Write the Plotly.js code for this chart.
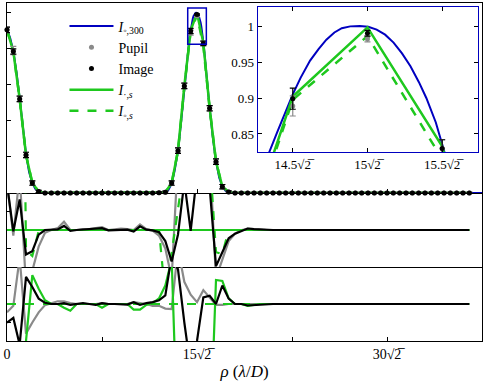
<!DOCTYPE html>
<html>
<head>
<meta charset="utf-8">
<script src="https://cdn.plot.ly/plotly-3.0.1.min.js"></script>
<style>
  html, body { margin: 0; padding: 0; background: #fff; }
  #chart { width: 488px; height: 385px; }
</style>
</head>
<body>
<div id="chart"></div>
<script>
// sample positions, k * sqrt(2)/2
const rho = [
  0, 0.707, 1.414, 2.121, 2.828, 3.536, 4.243, 4.95, 5.657, 6.364,
  7.071, 7.778, 8.485, 9.192, 9.899, 10.607, 11.314, 12.021, 12.728, 13.435,
  14.142, 14.849, 15.556, 16.263, 16.971, 17.678, 18.385, 19.092, 19.799, 20.506,
  21.213, 21.92, 22.627, 23.335, 24.042, 24.749, 25.456, 26.163, 26.87, 27.577,
  28.284, 28.991, 29.698, 30.406, 31.113, 31.82, 32.527, 33.234, 33.941, 34.648,
  35.355, 36.062, 36.77, 37.477, 38.184, 38.891, 39.598, 40.305, 41.012, 41.719,
  42.426, 43.134, 43.841, 44.548, 45.255, 45.962, 46.669, 47.376, 48.083, 48.79,
  49.497, 50.205, 50.912, 51.619
]

// fine model curve I_o,300
const blueRho = [0, 0.354, 0.707, 1.061, 1.414, 1.768, 2.121, 2.475, 2.828, 3.182, 3.536, 3.9, 4.5,
  17.0, 17.6, 18.0, 18.385, 18.7, 19.092, 19.45, 19.799, 20.0, 20.15, 20.284, 20.36, 20.43, 20.506,
  20.58, 20.67, 20.75, 20.824, 20.9, 20.97, 21.05, 21.14, 21.22, 21.3, 21.38, 21.46, 21.54,
  21.62, 21.7, 21.77, 21.86, 21.947, 22.03, 22.1, 22.27, 22.45, 22.627, 23.0, 23.335, 23.7,
  24.042, 24.4, 24.75, 25.2, 53.033]
const blueI = [0.908, 0.86, 0.787, 0.67, 0.525, 0.37, 0.215, 0.115, 0.055, 0.022, 0.008, 0.002, 0,
  0, 0.004, 0.015, 0.052, 0.12, 0.232, 0.4, 0.59, 0.69, 0.765, 0.825, 0.853, 0.878, 0.905,
  0.928, 0.952, 0.968, 0.981, 0.991, 0.997, 0.9995, 1.0, 0.999, 0.995, 0.988, 0.977, 0.962,
  0.944, 0.922, 0.9, 0.866, 0.828, 0.785, 0.745, 0.655, 0.56, 0.47, 0.3, 0.175, 0.085,
  0.036, 0.012, 0.003, 0, 0]

const image = [
  0.905, 0.785, 0.522, 0.211, 0.055, 0.008, 0, 0, 0, 0,
  0, 0, 0, 0, 0, 0, 0, 0, 0, 0,
  0, 0, 0, 0, 0.002, 0.004, 0.055, 0.235, 0.594, 0.899,
  0.99, 0.83, 0.47, 0.174, 0.035, 0.006, 0, 0, 0, 0,
  0, 0, 0, 0, 0, 0, 0, 0, 0, 0,
  0, 0, 0, 0, 0, 0, 0, 0, 0, 0,
  0, 0, 0, 0, 0, 0, 0, 0, 0, 0,
  0, 0, 0, 0
]
const imageErr = [
  0.015, 0.015, 0.015, 0.015, 0.012, 0.006, 0.004, 0.004, 0.004, 0.004,
  0.004, 0.004, 0.004, 0.004, 0.004, 0.004, 0.004, 0.004, 0.004, 0.004,
  0.004, 0.004, 0.004, 0.004, 0.004, 0.006, 0.012, 0.015, 0.015, 0.0146,
  0.004, 0.012, 0.015, 0.015, 0.012, 0.006, 0.004, 0.004, 0.004, 0.004,
  0.004, 0.004, 0.004, 0.004, 0.004, 0.004, 0.004, 0.004, 0.004, 0.004,
  0.004, 0.004, 0.004, 0.004, 0.004, 0.004, 0.004, 0.004, 0.004, 0.004,
  0.004, 0.004, 0.004, 0.004, 0.004, 0.004, 0.004, 0.004, 0.004, 0.004,
  0.004, 0.004, 0.004, 0.004
]
const pupil = [
  0.905, 0.79, 0.522, 0.211, 0.055, 0.008, 0, 0, 0, 0,
  0, 0, 0, 0, 0, 0, 0, 0, 0, 0,
  0, 0, 0, 0, 0.002, 0.004, 0.055, 0.235, 0.594, 0.889,
  0.982, 0.83, 0.47, 0.174, 0.035, 0.006, 0, 0, 0, 0,
  0, 0, 0, 0, 0, 0, 0, 0, 0, 0,
  0, 0, 0, 0, 0, 0, 0, 0, 0, 0,
  0, 0, 0, 0, 0, 0, 0, 0, 0, 0,
  0, 0, 0, 0
]
const pupilErr = [
  0.015, 0.023, 0.015, 0.015, 0.012, 0.006, 0.004, 0.004, 0.004, 0.004,
  0.004, 0.004, 0.004, 0.004, 0.004, 0.004, 0.004, 0.004, 0.004, 0.004,
  0.004, 0.004, 0.004, 0.004, 0.004, 0.006, 0.012, 0.015, 0.015, 0.014,
  0.004, 0.012, 0.015, 0.015, 0.012, 0.006, 0.004, 0.004, 0.004, 0.004,
  0.004, 0.004, 0.004, 0.004, 0.004, 0.004, 0.004, 0.004, 0.004, 0.004,
  0.004, 0.004, 0.004, 0.004, 0.004, 0.004, 0.004, 0.004, 0.004, 0.004,
  0.004, 0.004, 0.004, 0.004, 0.004, 0.004, 0.004, 0.004, 0.004, 0.004,
  0.004, 0.004, 0.004, 0.004
]
// I_.,s and I_o,s at the samples
const iDotS = [
  0.905, 0.785, 0.522, 0.211, 0.055, 0.008, 0, 0, 0, 0,
  0, 0, 0, 0, 0, 0, 0, 0, 0, 0,
  0, 0, 0, 0, 0.002, 0.004, 0.055, 0.235, 0.594, 0.902,
  0.998, 0.833, 0.47, 0.174, 0.035, 0.006, 0, 0, 0, 0,
  0, 0, 0, 0, 0, 0, 0, 0, 0, 0,
  0, 0, 0, 0, 0, 0, 0, 0, 0, 0,
  0, 0, 0, 0, 0, 0, 0, 0, 0, 0,
  0, 0, 0, 0
]
const iCircS = [
  0.905, 0.785, 0.522, 0.211, 0.055, 0.008, 0, 0, 0, 0,
  0, 0, 0, 0, 0, 0, 0, 0, 0, 0,
  0, 0, 0, 0, 0.002, 0.004, 0.055, 0.235, 0.585, 0.8976,
  0.986, 0.815, 0.47, 0.174, 0.035, 0.006, 0, 0, 0, 0,
  0, 0, 0, 0, 0, 0, 0, 0, 0, 0,
  0, 0, 0, 0, 0, 0, 0, 0, 0, 0,
  0, 0, 0, 0, 0, 0, 0, 0, 0, 0,
  0, 0, 0, 0
]

// middle panel residuals
const midImage = [
  2.5, -0.07, 1.65, -1.32, -1.14, -0.25, 0, 0, 0.03, 0.22,
  -0.05, 0, 0.02, 0.03, 0.05, 0.1, -0.02, 0, 0.03, 0.02,
  -0.08, 0.2, 0.02, -0.02, -0.12, -0.6, -1.7, -0.24, 2.6, -0.05,
  3, 4, 2.3, -1.95, -1.2, -0.45, -0.2, -0.05, 0.08, 0.05,
  0.02, 0, 0, 0, 0, 0, 0, 0, 0, 0,
  0, 0, 0, 0, 0, 0, 0, 0, 0, 0,
  0, 0, 0, 0, 0, 0, 0, 0, 0, 0,
  0, 0, 0, 0
]
const midPupil = [
  2.5, -0.3, 3, -3, -2.2, -0.9, -0.15, 0, 0.1, 0.45,
  0, 0, 0.05, 0.05, 0.1, 0.15, 0, 0.02, 0.08, 0.05,
  0, 0.3, 0.05, -0.03, -0.3, -1.0, -2.6, 4, 4, 4,
  4, 4, 4, -2.6, -1.6, -0.6, -0.2, -0.02, 0.08, 0.05,
  0.02, 0, 0, 0, 0, 0, 0, 0, 0, 0,
  0, 0, 0, 0, 0, 0, 0, 0, 0, 0,
  0, 0, 0, 0, 0, 0, 0, 0, 0, 0,
  0, 0, 0, 0
]
const midDot = [
  0, 0, 0, 0, 0, 0, 0, 0, 0, 0,
  0, 0, 0, 0, 0, 0, 0, 0, 0, 0,
  0, 0, 0, 0, 0, 0, 0, 0, 0, 0,
  0, 0, 0, 0, 0, 0, 0, 0, 0, 0,
  0, 0, 0, 0, 0, 0, 0, 0, 0, 0,
  0, 0, 0, 0, 0, 0, 0, 0, 0, 0,
  0, 0, 0, 0, 0, 0, 0, 0, 0, 0,
  0, 0, 0, 0
]
const midCirc = [
  30, 30, 30, -1.1, -1.4, -0.05, 0, 0, 0, 0,
  0, 0, 0, 0, 0, 0, 0, 0, 0, 0,
  0, 0, 0, 0, 0, -3.6, -1.2, 1.12, 3.5, 10,
  10, 10, 4, -1.2, -1.3, 0, 0, 0, 0, 0,
  0, 0, 0, 0, 0, 0, 0, 0, 0, 0,
  0, 0, 0, 0, 0, 0, 0, 0, 0, 0,
  0, 0, 0, 0, 0, 0, 0, 0, 0, 0,
  0, 0, 0, 0
]

// bottom panel residuals
const lowImage = [
  -1.0, -0.75, -2.2, 1.47, 0.92, 0.29, 0.07, 0, 0, 0.05,
  -0.05, 0, 0.05, 0, -0.05, 0.05, 0, 0, 0, -0.03,
  0.1, -0.05, 0.05, 0.1, 0.2, 0.47, 2.6, 1.87, -1.0, -3.5,
  -2.0, 0.36, 0.45, 0, 1.0, 0.29, 0, 0, -0.08, -0.05,
  -0.02, 0, 0, 0, 0, 0, 0, 0, 0, 0,
  0, 0, 0, 0, 0, 0, 0, 0, 0, 0,
  0, 0, 0, 0, 0, 0, 0, 0, 0, 0,
  0, 0, 0, 0
]
const lowPupil = [
  -0.45, -0.1, 2.5, -1.6, -1.0, -0.45, -0.06, 0.05, 0.15, 0.15,
  0.05, 0, 0, 0, 0, 0.05, 0, 0, 0, 0,
  0.1, 0.05, 0, -0.1, -0.1, -0.25, -0.27, 3, 1.2, 0.5,
  0.1, 0.75, 0.35, -0.05, -0.05, 0, 0, 0, 0, 0,
  0, 0, 0, 0, 0, 0, 0, 0, 0, 0,
  0, 0, 0, 0, 0, 0, 0, 0, 0, 0,
  0, 0, 0, 0, 0, 0, 0, 0, 0, 0,
  0, 0, 0, 0
]
const lowDot = [
  -6, -6, -6, -2.0, 1.56, 0.83, 0.2, 0, 0, -0.2,
  -0.36, 0, 0, 0, 0, -0.2, 0, 0, 0, 0,
  -0.3, -0.3, -0.05, 0.05, 0.3, 1.0, 2.4, -8, -8, -8,
  -8, -8, -8, 1.3, 1.25, 0.3, 0, 0, -0.1, -0.05,
  0, 0, 0, 0, 0, 0, 0, 0, 0, 0,
  0, 0, 0, 0, 0, 0, 0, 0, 0, 0,
  0, 0, 0, 0, 0, 0, 0, 0, 0, 0,
  0, 0, 0, 0
]
const lowCirc = midDot

const xMajorVals = [0, 21.213, 42.426]
const xMajorText = ['0', '15√2̅', '30√2̅']
const xMinorVals = [10.607, 31.82, 53.033]
const insetTickVals = [20.506, 21.213, 21.92]
const insetTickText = ['14.5√2̅', '15√2̅', '15.5√2̅']
const insetYVals = [0.85, 0.9, 0.95, 1]
const insetYText = ['0.85', '0.9', '0.95', '1']

const BLUE  = '#0000c0'
const GREEN = '#1ec81e'
const GRAY  = '#8a8a8a'
const SERIF = 'Liberation Serif, Times New Roman, serif'

const errBars = (arr, color) => ({ type: 'data', array: arr, color: color, thickness: 1.2, width: 3 })

const panelTraces = (xa, ya, legend) => [
  { x: blueRho, y: blueI, xaxis: xa, yaxis: ya, type: 'scatter', mode: 'lines',
    name: '<i>I</i><sub>◦,300</sub>', legendrank: 1, showlegend: legend,
    line: { color: BLUE, width: 2 } },
  { x: rho, y: iCircS, xaxis: xa, yaxis: ya, type: 'scatter', mode: 'lines',
    name: '<i>I</i><sub>◦,<i>s</i></sub>', legendrank: 5, showlegend: legend,
    line: { color: GREEN, width: 2.5, dash: 'dash' } },
  { x: rho, y: iDotS, xaxis: xa, yaxis: ya, type: 'scatter', mode: 'lines',
    name: '<i>I</i><sub>·,<i>s</i></sub>', legendrank: 4, showlegend: legend,
    line: { color: GREEN, width: 2.5 } },
  { x: rho, y: pupil, xaxis: xa, yaxis: ya, type: 'scatter', mode: 'markers',
    name: 'Pupil', legendrank: 2, showlegend: legend, cliponaxis: !legend,
    marker: { color: GRAY, size: 5 }, error_y: errBars(pupilErr, GRAY) },
  { x: rho, y: image, xaxis: xa, yaxis: ya, type: 'scatter', mode: 'markers',
    name: 'Image', legendrank: 3, showlegend: legend, cliponaxis: !legend,
    marker: { color: 'black', size: 5 }, error_y: errBars(imageErr, 'black') }
]

const resid = (xa, ya, pupilY, dotY, circY, imageY, order) => {
  const t = {
    pupil: { x: rho, y: pupilY, xaxis: xa, yaxis: ya, mode: 'lines', showlegend: false,
             line: { color: GRAY, width: 2.2 } },
    dot:   { x: rho, y: dotY, xaxis: xa, yaxis: ya, mode: 'lines', showlegend: false,
             line: { color: GREEN, width: 2.2 } },
    circ:  { x: rho, y: circY, xaxis: xa, yaxis: ya, mode: 'lines', showlegend: false,
             line: { color: GREEN, width: 2.2, dash: 'dash' } },
    image: { x: rho, y: imageY, xaxis: xa, yaxis: ya, mode: 'lines', showlegend: false,
             line: { color: 'black', width: 2.2 } }
  }
  return order.map(k => t[k])
}

const data = [
  ...panelTraces('x', 'y', true),
  ...panelTraces('x2', 'y2', false),
  ...resid('x3', 'y3', midPupil, midDot, midCirc, midImage, ['pupil', 'dot', 'circ', 'image']),
  ...resid('x4', 'y4', lowPupil, lowDot, lowCirc, lowImage, ['pupil', 'circ', 'dot', 'image'])
]

const frame = { showline: true, mirror: true, linecolor: 'black', linewidth: 1.4,
                showgrid: false, zeroline: false, ticks: 'inside', ticklen: 4, tickcolor: 'black' }
const minorTicks = { tickvals: xMinorVals, ticks: 'inside', ticklen: 4, tickcolor: 'black', showgrid: false }

const layout = {
  width: 488, height: 385,
  margin: { l: 7, r: 6, t: 3, b: 44 },
  paper_bgcolor: 'white', plot_bgcolor: 'white',
  font: { family: SERIF, size: 14, color: 'black' },
  showlegend: true,
  legend: { x: 0.121, y: 0.978, xanchor: 'left', yanchor: 'top', bgcolor: 'rgba(0,0,0,0)',
            font: { family: SERIF, size: 14 }, itemwidth: 44, tracegroupgap: 0 },
  xaxis:  { ...frame, domain: [0, 1], anchor: 'y', range: [0, 53.033],
            tickvals: xMajorVals, showticklabels: false, minor: minorTicks },
  yaxis:  { ...frame, domain: [0.4379, 1], anchor: 'x', range: [0, 1.054],
            tickvals: [0.2, 0.4, 0.6, 0.8, 1.0], showticklabels: false },
  xaxis3: { ...frame, mirror: false, domain: [0, 1], anchor: 'y3', range: [0, 53.033],
            ticks: '', showticklabels: false },
  yaxis3: { ...frame, domain: [0.2189, 0.4379], anchor: 'x3', range: [-2, 2],
            tickvals: [-1, 1], showticklabels: false },
  xaxis4: { ...frame, mirror: false, domain: [0, 1], anchor: 'y4', range: [0, 53.033],
            tickvals: xMajorVals, ticktext: xMajorText, minor: minorTicks,
            tickfont: { family: SERIF, size: 14 },
            title: { text: '<i>ρ</i> (<i>λ</i>/<i>D</i>)', font: { family: SERIF, size: 17 }, standoff: 4 } },
  yaxis4: { ...frame, domain: [0, 0.2189], anchor: 'x4', range: [-2, 2],
            tickvals: [-1, 1], showticklabels: false },
  xaxis2: { ...frame, domain: [0.5284, 0.9909], anchor: 'y2', range: [20.177, 22.256],
            linecolor: BLUE, mirror: 'ticks',
            tickvals: insetTickVals, ticktext: insetTickText, tickfont: { family: SERIF, size: 13 } },
  yaxis2: { ...frame, domain: [0.5592, 0.9873], anchor: 'x2', range: [0.825, 1.026],
            linecolor: BLUE, mirror: 'ticks',
            tickvals: insetYVals, ticktext: insetYText, tickfont: { family: SERIF, size: 13 } },
  shapes: [
    { type: 'rect', xref: 'x', yref: 'y', x0: 20.177, x1: 22.256, y0: 0.825, y1: 1.026,
      line: { color: BLUE, width: 1.5 }, layer: 'above' }
  ]
}

Plotly.newPlot('chart', data, layout, { displayModeBar: false, staticPlot: true })
</script>
</body>
</html>
